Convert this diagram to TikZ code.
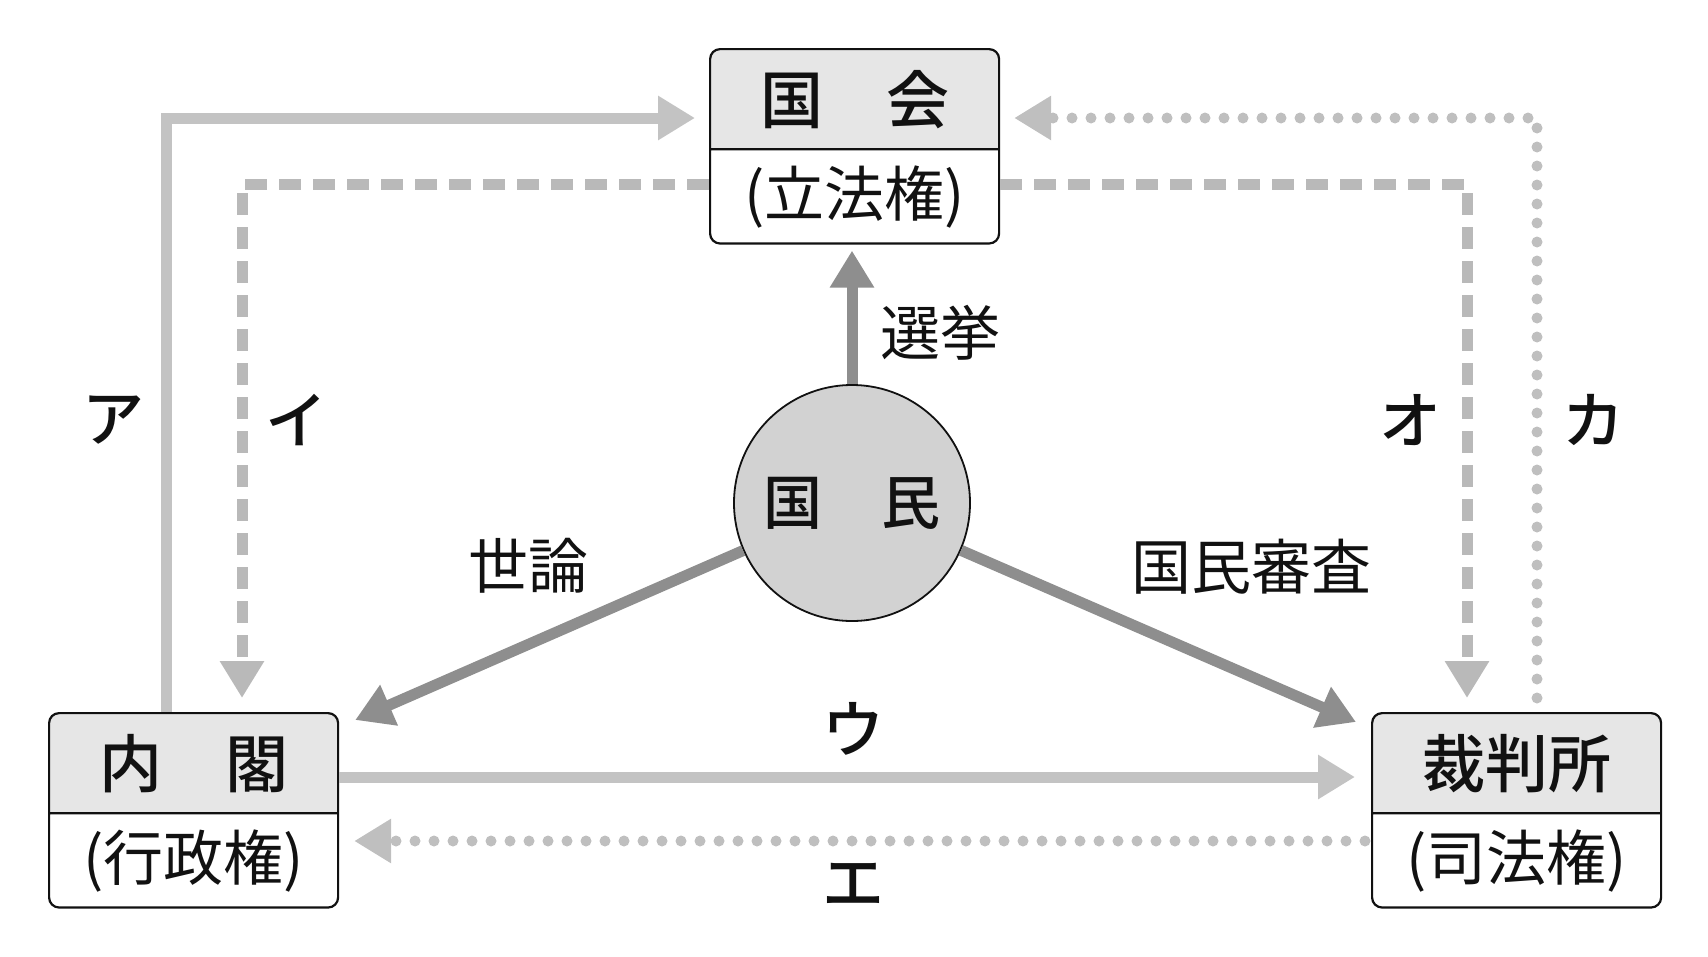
\documentclass[tikz,border=0pt]{standalone}
\usepackage{fontspec}
\setmainfont{Noto Sans CJK JP}[BoldFont = {Noto Sans CJK JP Medium}]
\usetikzlibrary{arrows.meta,shapes.multipart}
\definecolor{hdrgray}{HTML}{E6E6E6}
\definecolor{circgray}{HTML}{D2D2D2}
\definecolor{arrdark}{HTML}{8E8E8E}
\definecolor{arrsolid}{HTML}{C3C3C3}
\definecolor{arrdash}{HTML}{B9B9B9}
\definecolor{arrdot}{HTML}{BFBFBF}
\definecolor{inkblack}{HTML}{111111}
\newcommand\hdrfont{\fontsize{63pt}{63pt}\selectfont\bfseries\rule[-25pt]{0pt}{98pt}}
\newcommand\subfont{\fontsize{60pt}{60pt}\selectfont\rule[-26pt]{0pt}{92pt}}
\begin{document}
\begin{tikzpicture}[x = 1pt, y = -1pt,
    organ/.style = {rectangle split, rectangle split parts = 2, draw = inkblack, line width = 2.2pt,
                    rounded corners = 10pt, rectangle split part fill = {hdrgray, white},
                    text width = 270pt, align = center, inner xsep = 9.5pt, inner ysep = 0pt,
                    anchor = north west, text = inkblack},
    people/.style = {circle, draw = inkblack, line width = 1.8pt, fill = circgray, minimum size = 236pt,
                     inner sep = 0pt, text = inkblack, font = \fontsize{59pt}{59pt}\selectfont\bfseries},
    lbl/.style = {text = inkblack, inner sep = 0pt, font = \fontsize{60pt}{60pt}\selectfont},
    kana/.style = {text = inkblack, inner sep = 0pt, font = \fontsize{62pt}{62pt}\selectfont\bfseries},
    tip/.style = {-{Triangle[width = 42pt, length = 37pt]}},
    darkarr/.style = {tip, draw = arrdark, line width = 11pt},
    solidarr/.style = {tip, draw = arrsolid, line width = 11pt},
    dasharr/.style = {tip, draw = arrdash, line width = 11pt, dash pattern = on 22pt off 12pt},
    dotarr/.style = {tip, draw = arrdot, line width = 11pt, line cap = round, dash pattern = on 0pt off 19pt}]
    \useasboundingbox (0, 0) rectangle (1708, 956);
    \node[organ] (kokkai) at (709, 48) {\hdrfont 国\hspace{1em}会 \nodepart{two} \subfont (立法権)};
    \node[organ] (naikaku) at (48, 712) {\hdrfont 内\hspace{1em}閣 \nodepart{two} \subfont (行政権)};
    \node[organ] (saiban) at (1371, 712) {\hdrfont 裁判所 \nodepart{two} \subfont (司法権)};
    \node[people] (kokumin) at (852, 503) {国\hspace{1em}民};
    % people to the three powers
    \draw[darkarr, shorten > = 6pt] (kokumin) -- (kokumin |- kokkai.south);
    \draw[darkarr] (kokumin) -- ([xshift = 16pt, yshift = -8pt]naikaku.north east);
    \draw[darkarr] (kokumin) -- ([xshift = -15pt, yshift = -10pt]saiban.north west);
    % checks between the powers
    \draw[solidarr] ([xshift = 118pt]naikaku.north west) |- ([xshift = -14pt, yshift = -70pt]kokkai.north west);
    \draw[dasharr] ([yshift = -136pt]kokkai.north west) -| ([xshift = 194pt, yshift = 14pt]naikaku.north west);
    \draw[dasharr] ([yshift = -136pt]kokkai.north east) -| ([xshift = 96pt, yshift = 14pt]saiban.north west);
    \draw[dotarr] ([xshift = 166pt, yshift = 14pt]saiban.north west) |- ([xshift = 14pt, yshift = -70pt]kokkai.north east);
    \draw[solidarr] ([yshift = -65pt]naikaku.north east) -- ([xshift = -16pt, yshift = -65pt]saiban.north west);
    \draw[dotarr] ([xshift = -6pt, yshift = -129pt]saiban.north west) -- ([xshift = 15pt, yshift = -129pt]naikaku.north east);
    \node[lbl] (senkyo) at (940, 333) {選挙};
    \node[lbl] (seron) at (528, 566) {世論};
    \node[lbl] (shinsa) at (1251, 567) {国民審査};
    \node[kana] (a) at (113, 420) {ア};
    \node[kana] (i) at (296, 420) {イ};
    \node[kana] (u) at (853, 729) {ウ};
    \node[kana] (e) at (853, 884) {エ};
    \node[kana] (o) at (1410, 420) {オ};
    \node[kana] (ka) at (1593, 420) {カ};
\end{tikzpicture}
\end{document}
